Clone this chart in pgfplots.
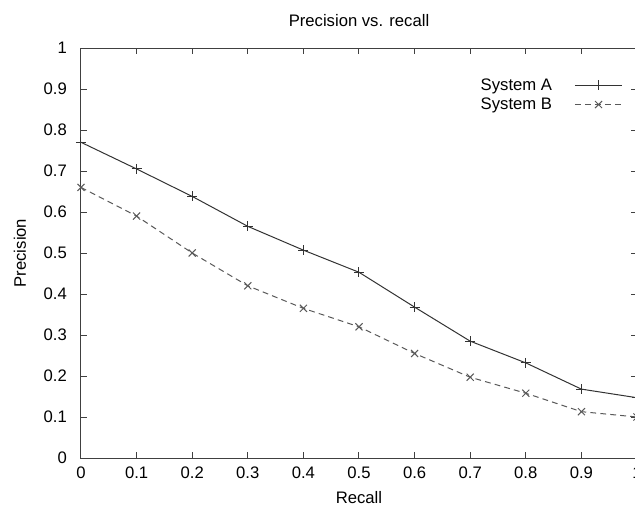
\documentclass[border=0pt]{standalone}
\usepackage{fontspec}
\setmainfont{Liberation Sans}
\usepackage{pgfplots}
\pgfplotsset{compat=1.18}

\begin{document}
\begin{tikzpicture}
\begin{axis}[
  scale only axis, width=333.6pt, height=246pt,
  xmin=0, xmax=1, ymin=0, ymax=1,
  xtick={0,0.1,...,1}, ytick={0,0.1,...,1},
  tick align=inside, major tick length=3.6pt,
  /pgf/number format/assume math mode=true,
  tick label style={font=\fontsize{10}{12}\selectfont},
  xticklabel style={yshift=-2pt},
  yticklabel style={xshift=-5pt},
  axis line style={black!75, line width=0.6pt},
  every tick/.style={black!75, line width=0.6pt},
  title={Precision vs. recall},
  every axis title shift=0pt,
  title style={at={(axis description cs:0.5,1.068)}, anchor=center, font=\fontsize{10}{12}\selectfont},
  xlabel={Recall},
  xlabel style={at={(axis description cs:0.5,-0.097)}, anchor=center, font=\fontsize{10}{12}\selectfont},
  ylabel={Precision},
  ylabel style={at={(axis description cs:-0.11,0.5)}, anchor=center, rotate=0, font=\fontsize{10}{12}\selectfont},
  legend style={draw=none, fill=none, at={(axis description cs:0.984,0.943)}, anchor=north east,
    font=\fontsize{10}{12}\selectfont, row sep=-1pt},
  legend cell align=right, legend plot pos=right,
  legend image code/.code={\path (0cm,0cm);
    \draw[mark repeat=2, mark phase=2, #1] plot coordinates {(0.4cm,0cm) (0.9cm,0cm) (1.4cm,0cm)};},
]
\addplot[black!80, line width=0.6pt, mark=+, mark size=3pt]
  coordinates {(0,0.770) (0.1,0.705) (0.2,0.638) (0.3,0.565) (0.4,0.507) (0.5,0.453)
               (0.6,0.368) (0.7,0.285) (0.8,0.232) (0.9,0.168) (1.0,0.147)};
\addlegendentry{System A}
\addplot[black!65, line width=0.6pt, dash pattern=on 3.5pt off 2.5pt, mark=x, mark size=3pt, mark options={solid}]
  coordinates {(0,0.660) (0.1,0.590) (0.2,0.500) (0.3,0.420) (0.4,0.365) (0.5,0.320)
               (0.6,0.255) (0.7,0.197) (0.8,0.158) (0.9,0.113) (1.0,0.100)};
\addlegendentry{System B}
\coordinate (o) at (axis cs:0,0);
\end{axis}
\pgfresetboundingbox
\path (o) ++(-48.6pt,-34.2pt) rectangle ++(381pt,309pt);
\end{tikzpicture}
\end{document}
